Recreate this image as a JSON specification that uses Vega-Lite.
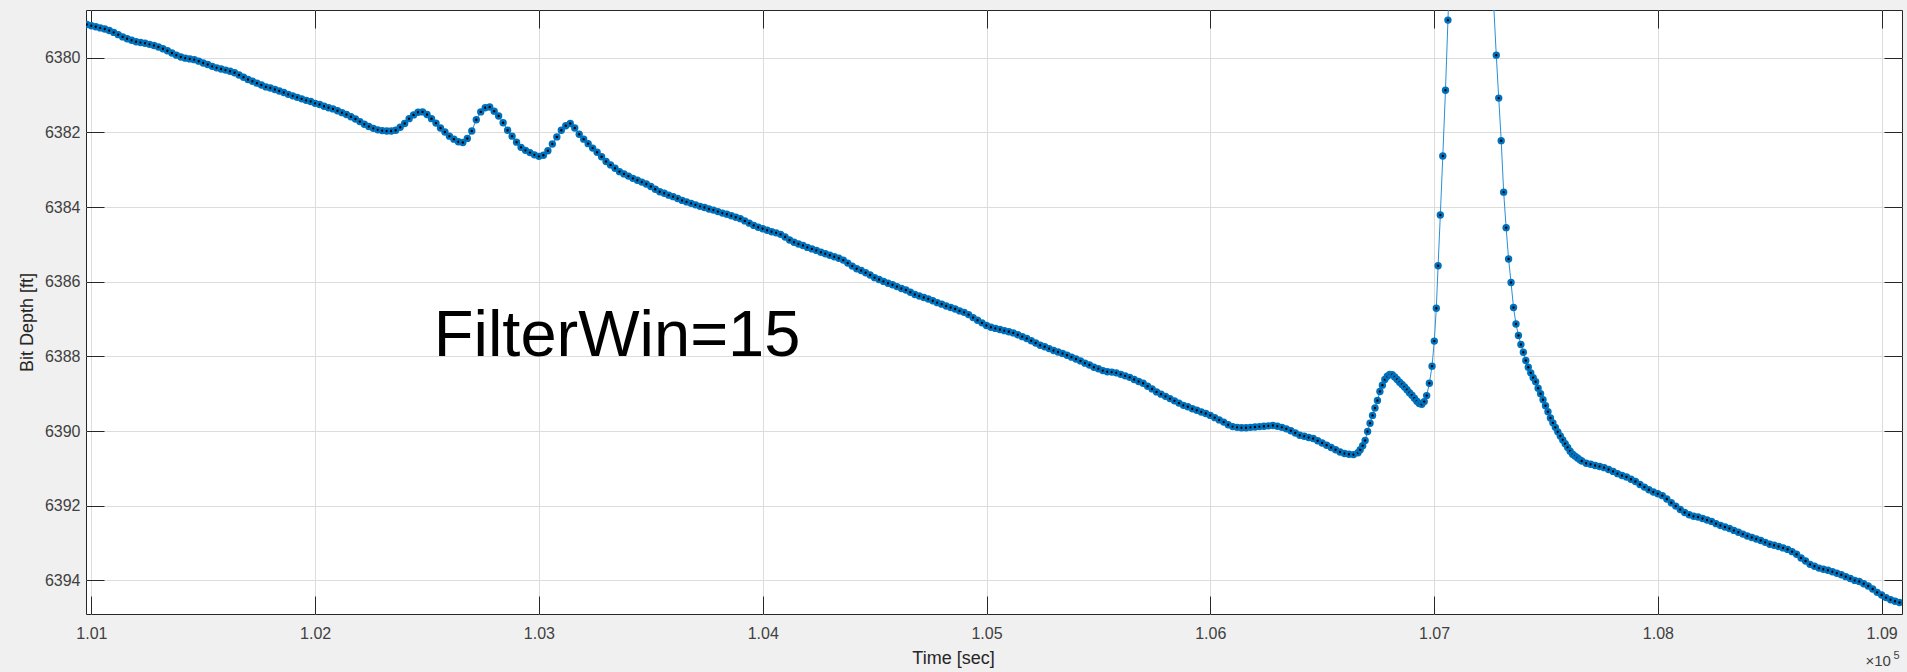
{
"$schema": "https://vega.github.io/schema/vega-lite/v6.json",
"width": 1816, "height": 604,
"autosize": {"type": "none"},
"padding": {"left": 86, "top": 10, "right": 5, "bottom": 58},
"background": "#f0f0f0",
"config": {
  "view": {"fill": "white", "stroke": "#262626", "strokeWidth": 1},
  "font": "Liberation Sans",
  "axis": {"labelFont": "Liberation Sans", "titleFont": "Liberation Sans", "labelColor": "#404040", "titleColor": "#262626", "titleFontWeight": "normal", "domain": false, "tickColor": "#262626", "gridColor": "#dcdcdc", "gridWidth": 1, "labelFontSize": 16, "titleFontSize": 18}
},
"datasets": {"depth": [
{"t":100980,"d":6379.11},{"t":101000,"d":6379.14},{"t":101020,"d":6379.17},{"t":101040,"d":6379.20},{"t":101060,"d":6379.23},{"t":101080,"d":6379.27},
{"t":101100,"d":6379.32},{"t":101120,"d":6379.38},{"t":101140,"d":6379.44},{"t":101160,"d":6379.49},{"t":101180,"d":6379.53},
{"t":101200,"d":6379.57},{"t":101220,"d":6379.59},{"t":101240,"d":6379.61},{"t":101260,"d":6379.64},{"t":101280,"d":6379.67},
{"t":101300,"d":6379.71},{"t":101320,"d":6379.76},{"t":101340,"d":6379.81},{"t":101360,"d":6379.87},{"t":101380,"d":6379.93},
{"t":101400,"d":6379.98},{"t":101420,"d":6380.01},{"t":101440,"d":6380.03},{"t":101460,"d":6380.05},{"t":101480,"d":6380.09},
{"t":101500,"d":6380.14},{"t":101520,"d":6380.18},{"t":101540,"d":6380.23},{"t":101560,"d":6380.27},{"t":101580,"d":6380.30},
{"t":101600,"d":6380.33},{"t":101620,"d":6380.36},{"t":101640,"d":6380.40},{"t":101660,"d":6380.46},{"t":101680,"d":6380.52},
{"t":101700,"d":6380.58},{"t":101720,"d":6380.63},{"t":101740,"d":6380.68},{"t":101760,"d":6380.73},{"t":101780,"d":6380.78},
{"t":101800,"d":6380.81},{"t":101820,"d":6380.85},{"t":101840,"d":6380.89},{"t":101860,"d":6380.93},{"t":101880,"d":6380.98},
{"t":101900,"d":6381.02},{"t":101920,"d":6381.06},{"t":101940,"d":6381.10},{"t":101960,"d":6381.14},{"t":101980,"d":6381.17},
{"t":102000,"d":6381.22},{"t":102020,"d":6381.25},{"t":102040,"d":6381.30},{"t":102060,"d":6381.34},{"t":102080,"d":6381.37},
{"t":102100,"d":6381.42},{"t":102120,"d":6381.47},{"t":102140,"d":6381.52},{"t":102160,"d":6381.58},{"t":102180,"d":6381.64},
{"t":102200,"d":6381.71},{"t":102220,"d":6381.78},{"t":102240,"d":6381.84},{"t":102260,"d":6381.89},{"t":102280,"d":6381.93},
{"t":102300,"d":6381.95},{"t":102320,"d":6381.96},{"t":102340,"d":6381.96},{"t":102360,"d":6381.94},{"t":102380,"d":6381.86},
{"t":102400,"d":6381.76},{"t":102420,"d":6381.63},{"t":102440,"d":6381.53},{"t":102460,"d":6381.46},{"t":102480,"d":6381.45},
{"t":102500,"d":6381.52},{"t":102520,"d":6381.63},{"t":102540,"d":6381.75},{"t":102560,"d":6381.88},{"t":102580,"d":6381.99},
{"t":102600,"d":6382.10},{"t":102620,"d":6382.18},{"t":102640,"d":6382.25},{"t":102660,"d":6382.27},{"t":102680,"d":6382.16},
{"t":102700,"d":6381.96},{"t":102720,"d":6381.66},{"t":102740,"d":6381.45},{"t":102760,"d":6381.34},{"t":102780,"d":6381.32},
{"t":102800,"d":6381.43},{"t":102820,"d":6381.56},{"t":102840,"d":6381.74},{"t":102860,"d":6381.94},{"t":102880,"d":6382.10},
{"t":102900,"d":6382.26},{"t":102920,"d":6382.40},{"t":102940,"d":6382.48},{"t":102960,"d":6382.54},{"t":102980,"d":6382.60},
{"t":103000,"d":6382.64},{"t":103020,"d":6382.61},{"t":103040,"d":6382.49},{"t":103060,"d":6382.31},{"t":103080,"d":6382.12},
{"t":103100,"d":6381.94},{"t":103120,"d":6381.82},{"t":103140,"d":6381.76},{"t":103160,"d":6381.88},{"t":103180,"d":6382.05},
{"t":103200,"d":6382.18},{"t":103220,"d":6382.30},{"t":103240,"d":6382.42},{"t":103260,"d":6382.53},{"t":103280,"d":6382.65},
{"t":103300,"d":6382.78},{"t":103320,"d":6382.87},{"t":103340,"d":6382.96},{"t":103360,"d":6383.05},{"t":103380,"d":6383.11},
{"t":103400,"d":6383.17},{"t":103420,"d":6383.23},{"t":103440,"d":6383.28},{"t":103460,"d":6383.33},{"t":103480,"d":6383.38},
{"t":103500,"d":6383.45},{"t":103520,"d":6383.52},{"t":103540,"d":6383.59},{"t":103560,"d":6383.63},{"t":103580,"d":6383.68},
{"t":103600,"d":6383.72},{"t":103620,"d":6383.77},{"t":103640,"d":6383.82},{"t":103660,"d":6383.86},{"t":103680,"d":6383.90},
{"t":103700,"d":6383.94},{"t":103720,"d":6383.98},{"t":103740,"d":6384.01},{"t":103760,"d":6384.05},{"t":103780,"d":6384.08},
{"t":103800,"d":6384.12},{"t":103820,"d":6384.16},{"t":103840,"d":6384.19},{"t":103860,"d":6384.23},{"t":103880,"d":6384.27},
{"t":103900,"d":6384.31},{"t":103920,"d":6384.37},{"t":103940,"d":6384.43},{"t":103960,"d":6384.49},{"t":103980,"d":6384.54},
{"t":104000,"d":6384.58},{"t":104020,"d":6384.62},{"t":104040,"d":6384.66},{"t":104060,"d":6384.69},{"t":104080,"d":6384.73},
{"t":104100,"d":6384.80},{"t":104120,"d":6384.88},{"t":104140,"d":6384.94},{"t":104160,"d":6384.99},{"t":104180,"d":6385.03},
{"t":104200,"d":6385.08},{"t":104220,"d":6385.12},{"t":104240,"d":6385.16},{"t":104260,"d":6385.21},{"t":104280,"d":6385.25},
{"t":104300,"d":6385.29},{"t":104320,"d":6385.33},{"t":104340,"d":6385.37},{"t":104360,"d":6385.42},{"t":104380,"d":6385.50},
{"t":104400,"d":6385.58},{"t":104420,"d":6385.65},{"t":104440,"d":6385.70},{"t":104460,"d":6385.76},{"t":104480,"d":6385.82},
{"t":104500,"d":6385.89},{"t":104520,"d":6385.94},{"t":104540,"d":6385.99},{"t":104560,"d":6386.04},{"t":104580,"d":6386.08},
{"t":104600,"d":6386.13},{"t":104620,"d":6386.18},{"t":104640,"d":6386.22},{"t":104660,"d":6386.28},{"t":104680,"d":6386.34},
{"t":104700,"d":6386.38},{"t":104720,"d":6386.42},{"t":104740,"d":6386.46},{"t":104760,"d":6386.51},{"t":104780,"d":6386.56},
{"t":104800,"d":6386.60},{"t":104820,"d":6386.65},{"t":104840,"d":6386.69},{"t":104860,"d":6386.73},{"t":104880,"d":6386.78},
{"t":104900,"d":6386.82},{"t":104920,"d":6386.88},{"t":104940,"d":6386.96},{"t":104960,"d":6387.03},{"t":104980,"d":6387.10},
{"t":105000,"d":6387.17},{"t":105020,"d":6387.22},{"t":105040,"d":6387.25},{"t":105060,"d":6387.28},{"t":105080,"d":6387.31},
{"t":105100,"d":6387.34},{"t":105120,"d":6387.37},{"t":105140,"d":6387.42},{"t":105160,"d":6387.47},{"t":105180,"d":6387.52},
{"t":105200,"d":6387.58},{"t":105220,"d":6387.64},{"t":105240,"d":6387.70},{"t":105260,"d":6387.74},{"t":105280,"d":6387.79},
{"t":105300,"d":6387.84},{"t":105320,"d":6387.88},{"t":105340,"d":6387.92},{"t":105360,"d":6387.97},{"t":105380,"d":6388.02},
{"t":105400,"d":6388.07},{"t":105420,"d":6388.12},{"t":105440,"d":6388.18},{"t":105460,"d":6388.23},{"t":105480,"d":6388.29},
{"t":105500,"d":6388.33},{"t":105520,"d":6388.38},{"t":105540,"d":6388.41},{"t":105560,"d":6388.42},{"t":105580,"d":6388.44},
{"t":105600,"d":6388.48},{"t":105620,"d":6388.52},{"t":105640,"d":6388.56},{"t":105660,"d":6388.62},{"t":105680,"d":6388.67},
{"t":105700,"d":6388.72},{"t":105720,"d":6388.80},{"t":105740,"d":6388.87},{"t":105760,"d":6388.95},{"t":105780,"d":6389.01},
{"t":105800,"d":6389.07},{"t":105820,"d":6389.13},{"t":105840,"d":6389.19},{"t":105860,"d":6389.25},{"t":105880,"d":6389.31},
{"t":105900,"d":6389.35},{"t":105920,"d":6389.40},{"t":105940,"d":6389.44},{"t":105960,"d":6389.49},{"t":105980,"d":6389.53},
{"t":106000,"d":6389.58},{"t":106020,"d":6389.64},{"t":106040,"d":6389.70},{"t":106060,"d":6389.76},{"t":106080,"d":6389.83},
{"t":106100,"d":6389.88},{"t":106120,"d":6389.90},{"t":106140,"d":6389.91},{"t":106160,"d":6389.91},{"t":106180,"d":6389.90},
{"t":106200,"d":6389.89},{"t":106220,"d":6389.88},{"t":106240,"d":6389.87},{"t":106260,"d":6389.86},{"t":106280,"d":6389.85},
{"t":106300,"d":6389.87},{"t":106320,"d":6389.90},{"t":106340,"d":6389.94},{"t":106360,"d":6389.99},{"t":106380,"d":6390.05},
{"t":106400,"d":6390.11},{"t":106420,"d":6390.14},{"t":106440,"d":6390.17},{"t":106460,"d":6390.20},{"t":106480,"d":6390.26},
{"t":106500,"d":6390.32},{"t":106520,"d":6390.38},{"t":106540,"d":6390.44},{"t":106560,"d":6390.50},{"t":106580,"d":6390.56},
{"t":106600,"d":6390.60},{"t":106620,"d":6390.62},{"t":106640,"d":6390.63},{"t":106660,"d":6390.58},
{"t":106670,"d":6390.50},{"t":106681,"d":6390.39},{"t":106692,"d":6390.25},{"t":106703,"d":6390.01},{"t":106714,"d":6389.79},
{"t":106725,"d":6389.58},{"t":106736,"d":6389.38},{"t":106747,"d":6389.18},{"t":106758,"d":6388.94},{"t":106769,"d":6388.77},
{"t":106780,"d":6388.62},{"t":106791,"d":6388.53},{"t":106802,"d":6388.48},{"t":106813,"d":6388.49},{"t":106824,"d":6388.55},
{"t":106835,"d":6388.62},{"t":106846,"d":6388.69},{"t":106857,"d":6388.75},{"t":106868,"d":6388.82},{"t":106879,"d":6388.89},
{"t":106890,"d":6388.97},{"t":106901,"d":6389.04},{"t":106912,"d":6389.12},{"t":106923,"d":6389.20},{"t":106934,"d":6389.26},
{"t":106945,"d":6389.28},{"t":106956,"d":6389.21},{"t":106967,"d":6389.05},{"t":106979,"d":6388.72},{"t":106991,"d":6388.26},
{"t":107001,"d":6387.59},{"t":107010,"d":6386.71},{"t":107018,"d":6385.57},{"t":107028,"d":6384.21},{"t":107039,"d":6382.63},
{"t":107051,"d":6380.87},{"t":107062,"d":6378.99},
{"t":107074,"d":6376.98},{"t":107085,"d":6374.9},{"t":107097,"d":6372.6},{"t":107108,"d":6370.4},{"t":107120,"d":6368.5},
{"t":107131,"d":6367.0},{"t":107142,"d":6365.9},{"t":107154,"d":6365.3},{"t":107165,"d":6365.2},{"t":107176,"d":6365.6},
{"t":107188,"d":6366.5},{"t":107199,"d":6367.8},{"t":107211,"d":6369.4},{"t":107222,"d":6371.2},{"t":107233,"d":6373.1},
{"t":107245,"d":6375.2},{"t":107256,"d":6377.28},{"t":107267,"d":6378.64},
{"t":107278,"d":6379.93},{"t":107289,"d":6381.08},{"t":107300,"d":6382.22},{"t":107311,"d":6383.60},{"t":107322,"d":6384.55},
{"t":107333,"d":6385.39},{"t":107344,"d":6386.02},{"t":107355,"d":6386.69},{"t":107366,"d":6387.13},{"t":107377,"d":6387.44},
{"t":107388,"d":6387.68},{"t":107399,"d":6387.89},{"t":107410,"d":6388.11},{"t":107421,"d":6388.29},{"t":107432,"d":6388.44},
{"t":107443,"d":6388.57},{"t":107454,"d":6388.68},{"t":107465,"d":6388.85},{"t":107476,"d":6389.00},{"t":107487,"d":6389.16},
{"t":107498,"d":6389.32},{"t":107509,"d":6389.48},{"t":107520,"d":6389.65},{"t":107531,"d":6389.78},{"t":107542,"d":6389.90},
{"t":107553,"d":6390.02},{"t":107564,"d":6390.13},{"t":107575,"d":6390.24},{"t":107586,"d":6390.34},{"t":107597,"d":6390.44},
{"t":107608,"d":6390.54},{"t":107619,"d":6390.62},{"t":107630,"d":6390.67},{"t":107641,"d":6390.72},{"t":107652,"d":6390.77},
{"t":107660,"d":6390.80},{"t":107680,"d":6390.86},{"t":107700,"d":6390.89},{"t":107720,"d":6390.92},{"t":107740,"d":6390.95},
{"t":107760,"d":6390.98},{"t":107780,"d":6391.03},{"t":107800,"d":6391.08},{"t":107820,"d":6391.14},{"t":107840,"d":6391.19},
{"t":107860,"d":6391.23},{"t":107880,"d":6391.29},{"t":107900,"d":6391.35},{"t":107920,"d":6391.43},{"t":107940,"d":6391.50},
{"t":107960,"d":6391.57},{"t":107980,"d":6391.63},{"t":108000,"d":6391.68},{"t":108020,"d":6391.73},{"t":108040,"d":6391.82},
{"t":108060,"d":6391.92},{"t":108080,"d":6392.01},{"t":108100,"d":6392.10},{"t":108120,"d":6392.18},{"t":108140,"d":6392.24},
{"t":108160,"d":6392.28},{"t":108180,"d":6392.30},{"t":108200,"d":6392.34},{"t":108220,"d":6392.38},{"t":108240,"d":6392.42},
{"t":108260,"d":6392.48},{"t":108280,"d":6392.53},{"t":108300,"d":6392.57},{"t":108320,"d":6392.61},{"t":108340,"d":6392.66},
{"t":108360,"d":6392.71},{"t":108380,"d":6392.76},{"t":108400,"d":6392.81},{"t":108420,"d":6392.85},{"t":108440,"d":6392.89},
{"t":108460,"d":6392.93},{"t":108480,"d":6392.98},{"t":108500,"d":6393.03},{"t":108520,"d":6393.06},{"t":108540,"d":6393.09},
{"t":108560,"d":6393.13},{"t":108580,"d":6393.17},{"t":108600,"d":6393.23},{"t":108620,"d":6393.30},{"t":108640,"d":6393.40},
{"t":108660,"d":6393.48},{"t":108680,"d":6393.57},{"t":108700,"d":6393.62},{"t":108720,"d":6393.67},{"t":108740,"d":6393.70},
{"t":108760,"d":6393.73},{"t":108780,"d":6393.77},{"t":108800,"d":6393.81},{"t":108820,"d":6393.85},{"t":108840,"d":6393.90},
{"t":108860,"d":6393.95},{"t":108880,"d":6394.00},{"t":108900,"d":6394.03},{"t":108920,"d":6394.09},{"t":108940,"d":6394.15},
{"t":108960,"d":6394.23},{"t":108980,"d":6394.32},{"t":109000,"d":6394.39},{"t":109020,"d":6394.46},{"t":109040,"d":6394.52},
{"t":109060,"d":6394.56},{"t":109080,"d":6394.59}
]},
"layer": [
  {
    "data": {"name": "depth"},
    "mark": {"type": "line", "clip": true, "color": "#2b8fd6", "strokeWidth": 1},
    "encoding": {
      "x": {"field": "t", "type": "quantitative",
        "scale": {"domain": [100976, 109091], "nice": false, "zero": false},
        "axis": {"orient": "bottom", "values": [101000,102000,103000,104000,105000,106000,107000,108000,109000],
          "labelExpr": "format(datum.value/100000, '.2f')", "tickSize": -18, "labelPadding": 29, "grid": true,
          "title": "Time [sec]", "titleX": 867, "titleY": 49, "titleAlign": "center", "titleBaseline": "alphabetic"}},
      "y": {"field": "d", "type": "quantitative",
        "scale": {"domain": [6378.72, 6394.9], "nice": false, "zero": false, "reverse": true},
        "axis": {"orient": "left", "values": [6380,6382,6384,6386,6388,6390,6392,6394], "format": "d",
          "tickSize": -18, "labelPadding": 24, "grid": true,
          "title": "Bit Depth [ft]", "titleX": -59, "titleY": 312, "titleAngle": 270, "titleAlign": "center", "titleBaseline": "middle"}}
    }
  },
  {
    "data": {"name": "depth"},
    "mark": {"type": "point", "shape": "circle", "filled": true, "fill": "#000000", "stroke": "#0072BD", "strokeWidth": 2.5, "size": 24, "opacity": 1, "clip": true},
    "encoding": {
      "x": {"field": "t", "type": "quantitative",
        "axis": {"orient": "top", "values": [101000,102000,103000,104000,105000,106000,107000,108000,109000],
          "tickSize": -18, "labels": false, "grid": false,
          "title": "×10", "titleX": 1779, "titleY": 655, "titleAlign": "left", "titleBaseline": "alphabetic", "titleFontSize": 15, "titleColor": "#404040"}},
      "y": {"field": "d", "type": "quantitative",
        "axis": {"orient": "right", "values": [6380,6382,6384,6386,6388,6390,6392,6394],
          "tickSize": -18, "labels": false, "grid": false,
          "title": "5", "titleAngle": 0, "titleX": -9, "titleY": 648, "titleAlign": "left", "titleBaseline": "alphabetic", "titleFontSize": 11, "titleColor": "#404040"}}
    }
  },
  {
    "data": {"values": [{"t": 102530, "d": 6388.0, "label": "FilterWin=15"}]},
    "mark": {"type": "text", "align": "left", "baseline": "alphabetic", "fontSize": 65, "font": "Liberation Sans", "color": "#000000"},
    "encoding": {
      "x": {"field": "t", "type": "quantitative", "axis": null},
      "y": {"field": "d", "type": "quantitative", "axis": null},
      "text": {"field": "label"}
    }
  }
],
"resolve": {"axis": {"x": "independent", "y": "independent"}}
}
